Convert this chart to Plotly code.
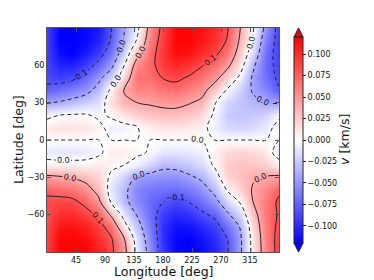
import plotly.graph_objects as go

# ---------------- data ----------------
lon = [0, 20, 40, 60, 80, 100, 120, 140, 160, 180, 200, 220, 240, 260, 280, 300, 320, 340, 360]
lat = [-90, -80, -70, -60, -50, -40, -30, -20, -10, 0, 10, 20, 30, 40, 50, 60, 70, 80, 90]

# v [km/s]; one row per latitude (south -> north), one column per longitude
v = [
    [0.09, 0.118, 0.12, 0.118, 0.104, 0.086, 0.05, -0.01, -0.052, -0.095, -0.118, -0.12, -0.115, -0.104, -0.082, -0.045, 0.01, 0.058, 0.09],
    [0.09, 0.118, 0.118, 0.115, 0.1, 0.083, 0.042, -0.015, -0.056, -0.098, -0.118, -0.12, -0.112, -0.1, -0.08, -0.045, 0.012, 0.06, 0.09],
    [0.087, 0.11, 0.112, 0.105, 0.09, 0.068, 0.012, -0.028, -0.062, -0.098, -0.113, -0.112, -0.102, -0.09, -0.068, -0.038, 0.018, 0.062, 0.087],
    [0.083, 0.1, 0.1, 0.09, 0.075, 0.035, -0.012, -0.042, -0.068, -0.092, -0.102, -0.097, -0.085, -0.075, -0.045, -0.02, 0.028, 0.064, 0.083],
    [0.085, 0.088, 0.086, 0.073, 0.048, -0.004, -0.032, -0.055, -0.07, -0.08, -0.088, -0.08, -0.068, -0.05, -0.022, 0.002, 0.04, 0.063, 0.085],
    [0.075, 0.07, 0.066, 0.052, 0.03, -0.012, -0.033, -0.058, -0.065, -0.068, -0.07, -0.063, -0.052, -0.032, 0.003, 0.02, 0.043, 0.056, 0.075],
    [0.046, 0.043, 0.038, 0.03, 0.02, -0.006, -0.022, -0.045, -0.05, -0.052, -0.052, -0.045, -0.035, -0.014, 0.02, 0.03, 0.037, 0.042, 0.046],
    [0.008, 0.007, 0.007, 0.007, 0.01, 0.006, 0.0, -0.008, -0.02, -0.033, -0.032, -0.025, -0.018, 0.004, 0.024, 0.028, 0.028, 0.022, 0.008],
    [-0.01, -0.012, -0.012, -0.01, -0.004, 0.008, 0.008, 0.004, -0.002, -0.012, -0.012, -0.01, -0.006, 0.006, 0.018, 0.02, 0.018, 0.01, -0.01],
    [0.0, 0.0, 0.0, 0.0, 0.0, 0.0, 0.0, 0.0, 0.0, 0.0, 0.0, 0.0, 0.0, 0.0, 0.0, 0.0, 0.0, 0.0, 0.0],
    [0.01, 0.014, 0.014, 0.012, 0.006, -0.008, -0.006, -0.001, 0.008, 0.012, 0.012, 0.01, 0.006, -0.008, -0.018, -0.02, -0.018, -0.01, 0.01],
    [-0.005, 0.0, 0.002, 0.002, -0.004, 0.003, 0.012, 0.022, 0.028, 0.03, 0.03, 0.026, 0.018, -0.004, -0.025, -0.028, -0.026, -0.02, -0.005],
    [-0.042, -0.037, -0.03, -0.022, -0.015, 0.015, 0.035, 0.04, 0.043, 0.047, 0.048, 0.042, 0.034, 0.002, -0.02, -0.028, -0.034, -0.04, -0.042],
    [-0.075, -0.068, -0.06, -0.05, -0.03, 0.006, 0.042, 0.058, 0.058, 0.065, 0.068, 0.06, 0.05, 0.025, -0.003, -0.022, -0.043, -0.058, -0.078],
    [-0.085, -0.09, -0.085, -0.07, -0.047, -0.022, 0.02, 0.066, 0.068, 0.081, 0.086, 0.077, 0.065, 0.05, 0.022, -0.006, -0.045, -0.067, -0.085],
    [-0.088, -0.105, -0.105, -0.092, -0.072, -0.047, 0.0, 0.055, 0.072, 0.092, 0.103, 0.097, 0.082, 0.068, 0.047, 0.012, -0.035, -0.07, -0.088],
    [-0.09, -0.115, -0.12, -0.108, -0.092, -0.066, -0.022, 0.03, 0.068, 0.095, 0.115, 0.112, 0.1, 0.087, 0.066, 0.026, -0.018, -0.068, -0.09],
    [-0.09, -0.12, -0.12, -0.116, -0.104, -0.077, -0.036, 0.003, 0.06, 0.092, 0.118, 0.118, 0.11, 0.098, 0.078, 0.035, -0.004, -0.06, -0.09],
    [-0.09, -0.12, -0.12, -0.116, -0.108, -0.08, -0.042, -0.008, 0.052, 0.088, 0.118, 0.118, 0.112, 0.1, 0.082, 0.04, 0.002, -0.05, -0.09],
]

x_ticks = [45, 90, 135, 180, 225, 270, 315]
y_ticks = [-60, -30, 0, 30, 60]
y_ticktext = ["\u221260", "\u221230", "0", "30", "60"]
cbar_ticks = [-0.1, -0.075, -0.05, -0.025, 0.0, 0.025, 0.05, 0.075, 0.1]
cbar_ticktext = ["\u22120.100", "\u22120.075", "\u22120.050", "\u22120.025", "0.000",
                 "0.025", "0.050", "0.075", "0.100"]
v_limit = 0.12
neg_levels = dict(start=-0.080001, end=0.0, size=0.04)   # -0.08, -0.04, ~0 (dashed)
pos_levels = dict(start=0.04, end=0.0801, size=0.04)     # 0.04, 0.08 (solid)

# ---------------- layout (pixels) ----------------
W, H = 374, 280
L, R, T, B = 47, 279, 28, 252
FONT = "DejaVu Sans"


def px(x):
    return (x - L) / (R - L)


def py(y):
    return (B - y) / (B - T)


bwr = [[0.0, "rgb(0,0,255)"], [0.5, "rgb(255,255,255)"], [1.0, "rgb(255,0,0)"]]

cb_x0, cb_x1, cb_y0, cb_y1 = 294, 303, 37, 243

fig = go.Figure()
fig.add_trace(go.Heatmap(
    x=lon, y=lat, z=v, zsmooth="best", colorscale=bwr, zmin=-v_limit, zmax=v_limit,
    hoverinfo="skip",
    colorbar=dict(
        x=px(cb_x0), xanchor="left", xpad=0, ypad=0,
        y=0.5, yanchor="middle", lenmode="pixels", len=cb_y1 - cb_y0,
        thicknessmode="pixels", thickness=cb_x1 - cb_x0,
        outlinewidth=1, outlinecolor="#222",
        tickmode="array", tickvals=cbar_ticks, ticktext=cbar_ticktext,
        ticks="outside", ticklen=3, tickcolor="#222",
        tickfont=dict(family=FONT, size=8, color="#111"),
    ),
))

common = dict(x=lon, y=lat, z=v, autocontour=False, showscale=False, hoverinfo="skip")
lab = dict(coloring="none", showlabels=True, labelformat=".1f",
           labelfont=dict(family=FONT, size=8, color="#111"))
fig.add_trace(go.Contour(
    **common, contours=dict(**neg_levels, **lab),
    line=dict(color="#222", width=1, dash="4px,3px", smoothing=1),
))
fig.add_trace(go.Contour(
    **common, contours=dict(**pos_levels, **lab),
    line=dict(color="#222", width=1, smoothing=1),
))

axis_common = dict(showgrid=False, zeroline=False, showline=True, linecolor="#555",
                   linewidth=1, mirror="ticks", ticks="inside", ticklen=4,
                   tickcolor="#555", tickfont=dict(family=FONT, size=8, color="#111"))
fig.update_xaxes(range=[0, 360], tickmode="array", tickvals=x_ticks, **axis_common)
fig.update_yaxes(range=[-90, 90], tickmode="array", tickvals=y_ticks, ticktext=y_ticktext,
                 **axis_common)

# colorbar extension triangles
tri_top = (f"M {px(cb_x0)} {py(cb_y0)} L {px(cb_x1)} {py(cb_y0)} "
           f"L {px((cb_x0 + cb_x1) / 2)} {py(T)} Z")
tri_bot = (f"M {px(cb_x0)} {py(cb_y1)} L {px(cb_x1)} {py(cb_y1)} "
           f"L {px((cb_x0 + cb_x1) / 2)} {py(B)} Z")
shapes = [
    dict(type="path", xref="paper", yref="paper", path=tri_top,
         fillcolor="rgb(255,0,0)", line=dict(color="#222", width=1)),
    dict(type="path", xref="paper", yref="paper", path=tri_bot,
         fillcolor="rgb(0,0,255)", line=dict(color="#222", width=1)),
]

annotations = [
    dict(text="Longitude [deg]", x=0.5, y=py(271), xref="paper", yref="paper",
         showarrow=False, font=dict(family=FONT, size=12.5, color="#111"),
         xanchor="center", yanchor="middle"),
    dict(text="Latitude [deg]", x=px(18), y=0.5, xref="paper", yref="paper",
         showarrow=False, textangle=-90, font=dict(family=FONT, size=12.5, color="#111"),
         xanchor="center", yanchor="middle"),
    dict(text="<i>v</i> [km/s]", x=px(344), y=0.5, xref="paper", yref="paper",
         showarrow=False, textangle=-90, font=dict(family=FONT, size=12.5, color="#111"),
         xanchor="center", yanchor="middle"),
]

fig.update_layout(
    width=W, height=H, margin=dict(l=L, r=W - R, t=T, b=H - B),
    paper_bgcolor="white", plot_bgcolor="white", showlegend=False,
    font=dict(family=FONT), shapes=shapes, annotations=annotations,
)

fig.write_html("out.html", config={"displayModeBar": False},
               post_script="document.body.style.margin='0';document.body.style.overflow='hidden';")
